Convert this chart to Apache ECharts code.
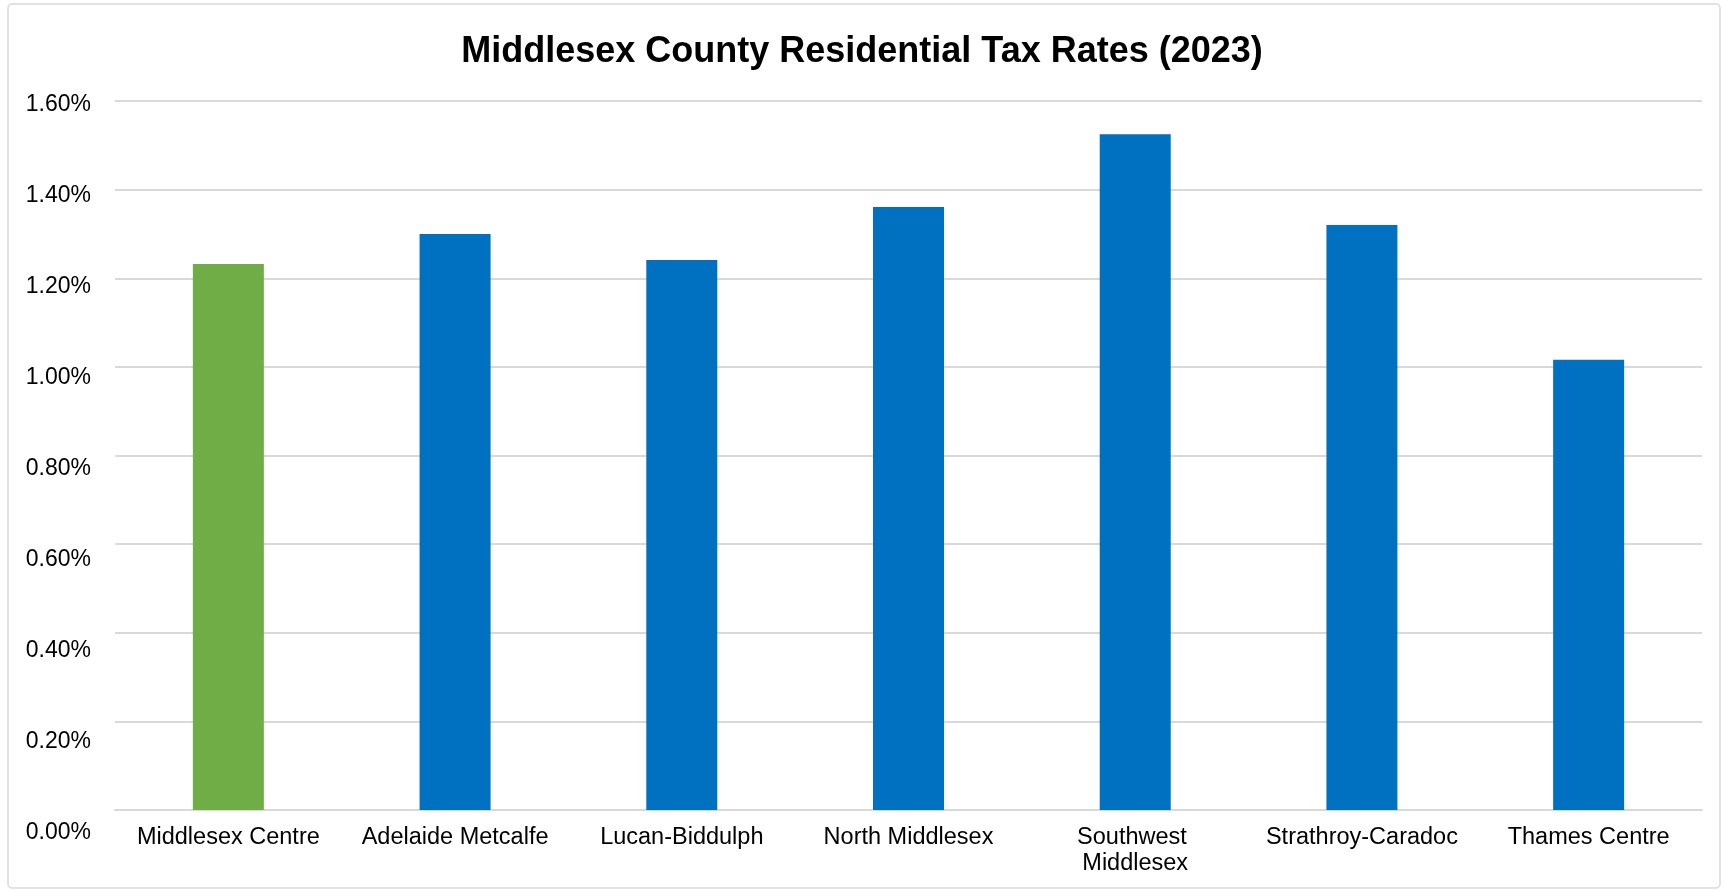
<!DOCTYPE html>
<html>
<head>
<meta charset="utf-8">
<script src="https://cdn.jsdelivr.net/npm/echarts@6/dist/echarts.min.js"></script>
<style>
html,body{margin:0;padding:0;background:#fff;}
#chart{width:1724px;height:892px;}
</style>
</head>
<body>
<div id="chart"></div>
<script>
const titleText = 'Middlesex County Residential Tax Rates (2023)';
const categories = ['Middlesex Centre','Adelaide Metcalfe','Lucan-Biddulph','North Middlesex','Southwest Middlesex','Strathroy-Caradoc','Thames Centre'];
const rates = [1.232, 1.300, 1.241, 1.361, 1.525, 1.320, 1.016];
const highlighted = ['Middlesex Centre'];
const yMin = 0, yMax = 1.6, yStep = 0.2;

const FONT = '"Liberation Sans", Arial, sans-serif';
const chart = echarts.init(document.getElementById('chart'), null, {renderer:'canvas'});
chart.setOption({
  backgroundColor:'#ffffff',
  animation:false,
  title:{text:titleText,left:'center',top:29,textStyle:{fontFamily:FONT,fontWeight:'bold',fontSize:36,color:'#000'}},
  graphic:[{type:'rect',shape:{x:8,y:4,width:1712,height:884,r:4},style:{fill:'none',stroke:'#d9d9d9',lineWidth:1.5},silent:true,z:-1}],
  grid:[
    {left:115,right:22,top:101,bottom:892-810,containLabel:false},
    {left:115,right:22,top:105,bottom:892-833,containLabel:false}
  ],
  xAxis:[
    {type:'category',gridIndex:0,data:categories,
     axisLine:{show:true,lineStyle:{color:'#d9d9d9',width:2}},axisTick:{show:false},
     axisLabel:{fontFamily:FONT,fontSize:23.5,color:'#000',margin:15,lineHeight:26,width:205,overflow:'break',interval:0}},
    {type:'category',gridIndex:1,data:categories,show:false}
  ],
  yAxis:[
    {type:'value',gridIndex:0,min:yMin,max:yMax,interval:yStep,
     axisLabel:{show:false},axisLine:{show:false},axisTick:{show:false},
     splitLine:{show:true,lineStyle:{color:'#d9d9d9',width:2}}},
    {type:'value',gridIndex:1,min:yMin,max:yMax,interval:yStep,
     axisLabel:{show:true,fontFamily:FONT,fontSize:23,color:'#000',margin:24,formatter:v=>v.toFixed(2)+'%'},
     axisLine:{show:false},axisTick:{show:false},splitLine:{show:false}}
  ],
  series:[{
    type:'bar',xAxisIndex:0,yAxisIndex:0,barWidth:71,
    data:rates.map((v,i)=>({value:v,itemStyle:{color:highlighted.includes(categories[i])?'#70AD47':'#0070C0'}}))
  }]
});
</script>
</body>
</html>
